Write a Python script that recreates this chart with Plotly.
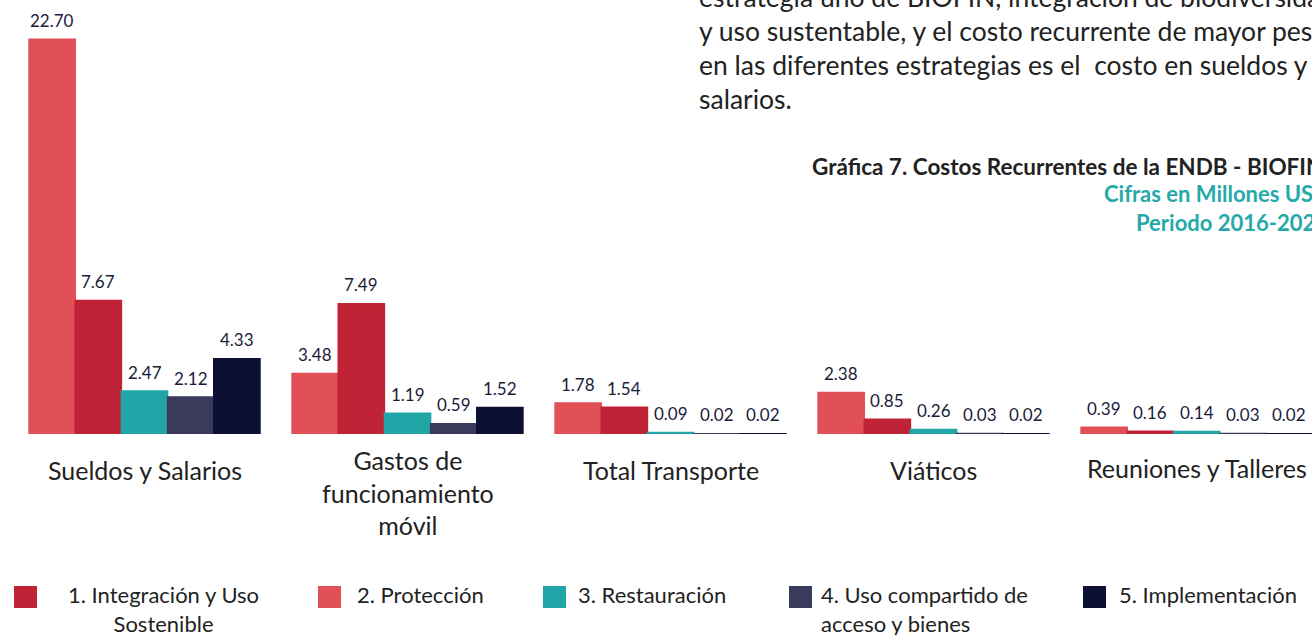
import plotly.graph_objects as go

# ---------------- data ----------------
categories = ["Sueldos y Salarios", "Gastos de funcionamiento móvil",
              "Total Transporte", "Viáticos", "Reuniones y Talleres"]
category_labels = ["Sueldos y Salarios", "Gastos de<br>funcionamiento<br>móvil",
                   "Total Transporte", "Viáticos", "Reuniones y Talleres"]

series_names = ["1. Integración y Uso Sostenible", "2. Protección", "3. Restauración",
                "4. Uso compartido de acceso y bienes", "5. Implementación"]
integracion = [22.70, 3.48, 1.78, 2.38, 0.39]
proteccion = [7.67, 7.49, 1.54, 0.85, 0.16]
restauracion = [2.47, 1.19, 0.09, 0.26, 0.14]
uso_compartido = [2.12, 0.59, 0.02, 0.03, 0.03]
implementacion = [4.33, 1.52, 0.02, 0.02, 0.02]
series_values = [integracion, proteccion, restauracion, uso_compartido, implementacion]

bar_colors = ["#E05056", "#C02335", "#22A5A7", "#3A3A5C", "#0C1033"]
legend_labels = ["1. Integración y Uso<br>Sostenible", "2. Protección", "3. Restauración",
                 "4. Uso compartido de<br>acceso y bienes", "5. Implementación"]
legend_colors = ["#C02335", "#E05056", "#22A5A7", "#3A3A5C", "#0C1033"]

title = "Gráfica 7. Costos Recurrentes de la ENDB - BIOFIN"
subtitle1 = "Cifras en Millones USD"
subtitle2 = "Periodo 2016-2020"
body_lines = ["estrategia uno de BIOFIN, integración de biodiversidad",
              "y uso sustentable, y el costo recurrente de mayor peso",
              "en las diferentes estrategias es el  costo en sueldos y",
              "salarios."]

# ---------------- layout helpers ----------------
W, H = 1312, 635
PLOT_H = 434
BARGAP = 0.122
FONT = "Lato, 'Open Sans', sans-serif"
TXT = "#222222"
LBL = "#1B1B3A"


def py(y_px):
    return 1 - y_px / PLOT_H


def px(x_px):
    return x_px / W


fig = go.Figure()
for name, vals, col in zip(series_names, series_values, bar_colors):
    fig.add_trace(go.Bar(x=list(range(len(categories))), y=vals, name=name,
                         marker=dict(color=col, line=dict(color=col, width=1.5)),
                         showlegend=False, hoverinfo="name+y"))

annotations = []
n = len(series_values)
bw = (1 - BARGAP) / n
for j, vals in enumerate(series_values):
    for i, v in enumerate(vals):
        annotations.append(dict(x=i + (j - (n - 1) / 2) * bw, y=v, xref="x", yref="y",
                                text=f"{v:.2f}", showarrow=False, yanchor="middle",
                                yshift=19, font=dict(family=FONT, size=17, color=LBL)))

cat_y = [470, 493, 470, 470, 468]
for i, (lab, yy) in enumerate(zip(category_labels, cat_y)):
    annotations.append(dict(x=i, y=py(yy), xref="x", yref="paper", text=lab,
                            showarrow=False, yanchor="middle", align="center",
                            font=dict(family=FONT, size=25, color=TXT)))

# legend (drawn manually)
sw_x = [14, 318, 543, 789, 1083]
txt_x = [163, 355, 576, 819, 1117]
txt_anchor = ["center", "left", "left", "left", "left"]
shapes = []
for k in range(len(legend_labels)):
    shapes.append(dict(type="rect", xref="paper", yref="paper",
                       x0=px(sw_x[k]), x1=px(sw_x[k] + 23), y0=py(586), y1=py(608),
                       fillcolor=legend_colors[k], line=dict(width=0)))
    annotations.append(dict(x=px(txt_x[k]), y=py(579), xref="paper", yref="paper",
                            text=legend_labels[k], showarrow=False, xanchor=txt_anchor[k],
                            yanchor="top", align=txt_anchor[k],
                            font=dict(family=FONT, size=22, color=TXT)))

# body paragraph + title
for k, line in enumerate(body_lines):
    annotations.append(dict(x=px(697), y=py(-3 + 34 * k), xref="paper", yref="paper",
                            text=line, showarrow=False, xanchor="left", yanchor="middle",
                            font=dict(family=FONT, size=26.5, color=TXT)))
annotations.append(dict(x=px(810), y=py(166), xref="paper", yref="paper", text=f"<b>{title}</b>",
                        showarrow=False, xanchor="left", yanchor="middle",
                        font=dict(family=FONT, size=22.5, color=TXT)))
annotations.append(dict(x=px(1102), y=py(193), xref="paper", yref="paper", text=f"<b>{subtitle1}</b>",
                        showarrow=False, xanchor="left", yanchor="middle",
                        font=dict(family=FONT, size=22, color="#26A9A9")))
annotations.append(dict(x=px(1134), y=py(222), xref="paper", yref="paper", text=f"<b>{subtitle2}</b>",
                        showarrow=False, xanchor="left", yanchor="middle",
                        font=dict(family=FONT, size=22, color="#26A9A9")))

fig.update_layout(
    width=W, height=H,
    margin=dict(l=0, r=0, t=0, b=H - PLOT_H),
    paper_bgcolor="white", plot_bgcolor="white",
    barmode="group", bargap=BARGAP, bargroupgap=0,
    xaxis=dict(type="linear", range=[-0.5494, 4.439], showticklabels=False,
               showgrid=False, zeroline=False, showline=False, fixedrange=True),
    yaxis=dict(range=[0, 24.95], visible=False, fixedrange=True),
    annotations=annotations, shapes=shapes,
    font=dict(family=FONT, color=TXT),
)

fig.write_html("out.html", config={"displayModeBar": False},
               post_script="document.body.style.margin='0px';")
